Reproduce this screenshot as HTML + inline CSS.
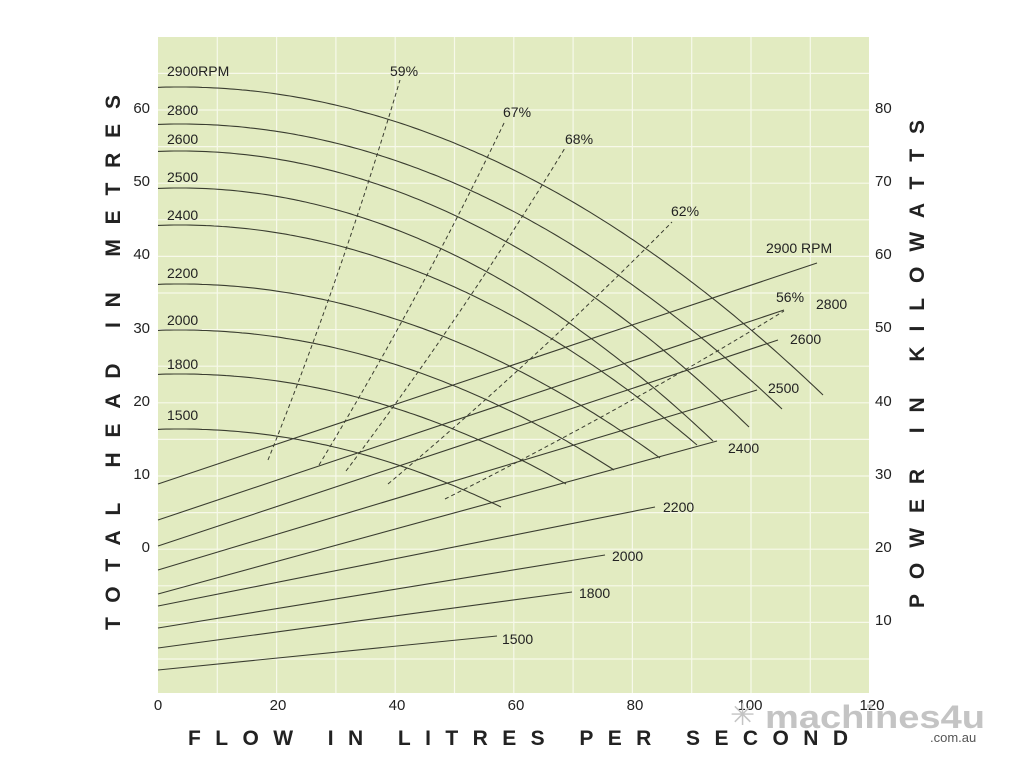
<!DOCTYPE html>
<html><head><meta charset="utf-8"><style>
html,body{margin:0;padding:0;background:#fff;width:1024px;height:768px;overflow:hidden}
svg{display:block}
text{font-family:"Liberation Sans",sans-serif;fill:#222}
</style></head><body>
<svg id="s" width="1024" height="768" xmlns="http://www.w3.org/2000/svg">
<rect x="158" y="37" width="711" height="656" fill="#e2ebc1"/>
<g id="grid" stroke="#f7f9ea" stroke-width="1.2"></g>
<g id="curves" fill="none" stroke="#3a3d30" stroke-width="1.1"></g>
<g id="dash" fill="none" stroke="#3a3d30" stroke-width="1" stroke-dasharray="4,3"></g>
<g font-size="14">
<text x="167" y="76">2900RPM</text>
<text x="167" y="115">2800</text>
<text x="167" y="144">2600</text>
<text x="167" y="182">2500</text>
<text x="167" y="220">2400</text>
<text x="167" y="278">2200</text>
<text x="167" y="325">2000</text>
<text x="167" y="369">1800</text>
<text x="167" y="420">1500</text>
<text x="390" y="76">59%</text>
<text x="503" y="117">67%</text>
<text x="565" y="144">68%</text>
<text x="671" y="216">62%</text>
<text x="776" y="302">56%</text>
<text x="766" y="253">2900 RPM</text>
<text x="816" y="309">2800</text>
<text x="790" y="344">2600</text>
<text x="768" y="393">2500</text>
<text x="728" y="453">2400</text>
<text x="663" y="512">2200</text>
<text x="612" y="561">2000</text>
<text x="579" y="598">1800</text>
<text x="502" y="644">1500</text>
</g>
<g font-size="15" text-anchor="end">
<text x="150" y="113">60</text><text x="150" y="186">50</text><text x="150" y="259">40</text>
<text x="150" y="333">30</text><text x="150" y="406">20</text><text x="150" y="479">10</text>
<text x="150" y="552">0</text>
</g>
<g font-size="15">
<text x="875" y="113">80</text><text x="875" y="186">70</text><text x="875" y="259">60</text>
<text x="875" y="332">50</text><text x="875" y="406">40</text><text x="875" y="479">30</text>
<text x="875" y="552">20</text><text x="875" y="625">10</text>
</g>
<g font-size="15" text-anchor="middle">
<text x="158" y="710">0</text><text x="278" y="710">20</text><text x="397" y="710">40</text>
<text x="516" y="710">60</text><text x="635" y="710">80</text><text x="750" y="710">100</text>
<text x="872" y="710">120</text>
</g>
<text x="765" y="728" font-size="32" font-weight="bold" style="fill:#c4c4c4" textLength="220" lengthAdjust="spacingAndGlyphs">machines4u</text>
<text x="730" y="725" font-size="30" style="fill:#c4c4c4">✳</text>
<text x="930" y="742" font-size="13" style="fill:#555">.com.au</text>
<text x="188" y="745" font-size="21" font-weight="bold" textLength="660" lengthAdjust="spacing">FLOW IN LITRES PER SECOND</text>
<text transform="translate(120,630) rotate(-90)" font-size="21" font-weight="bold" textLength="535" lengthAdjust="spacing">TOTAL HEAD IN METRES</text>
<text transform="translate(924,608) rotate(-90)" font-size="21" font-weight="bold" textLength="488" lengthAdjust="spacing">POWER IN KILOWATTS</text>
</svg>
<script>
var NS="http://www.w3.org/2000/svg";
function el(p,t,a){var e=document.createElementNS(NS,t);for(var k in a)e.setAttribute(k,a[k]);document.getElementById(p).appendChild(e);}
for(var i=1;i<12;i++){var x=158+5.93*i*10;el("grid","line",{x1:x,y1:37,x2:x,y2:693});}
for(var y=73.4;y<693;y+=36.6){el("grid","line",{x1:158,y1:y,x2:869,y2:y});}
var heads=[[87,823,395],[124,782,409],[151,749,427],[188,713,441],[225,697,445],[284,660,458],[330,614,470],[374,566,484],[429,501,507]];
heads.forEach(function(h){var xp=180,k=(h[2]-h[0])/Math.pow(h[1]-xp,2),d="";
for(var x=158;x<=h[1];x+=4){var xx=Math.min(x,h[1]);d+=(d?"L":"M")+xx+","+(h[0]+k*(xx-xp)*(xx-xp)).toFixed(1);}
d+="L"+h[1]+","+h[2];el("curves","path",{d:d});});
var pw=[[484,817,263],[520,784,310],[546,778,340],[570,757,390],[594,717,441],[606,655,507],[628,605,555],[648,572,592],[670,497,636]];
pw.forEach(function(p){el("curves","line",{x1:158,y1:p[0],x2:p[1],y2:p[2]});});
var ef=[[268,460,400,80],[319,465,505,121],[346,471,565,148],[388,484,672,222],[445,499,784,311]];
ef.forEach(function(e){var mx=(e[0]+e[2])/2+8,my=(e[1]+e[3])/2+5;el("dash","path",{d:"M"+e[0]+","+e[1]+"Q"+mx+","+my+" "+e[2]+","+e[3]});});
</script>
</body></html>
